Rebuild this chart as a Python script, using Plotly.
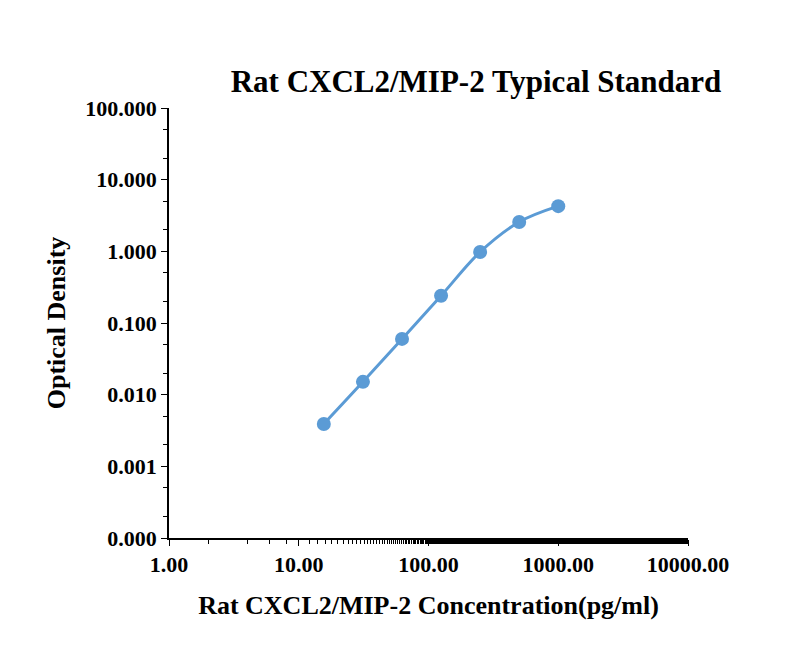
import plotly.graph_objects as go

concentration = [15.6, 31.25, 62.5, 125, 250, 500, 1000]
od = [0.0039, 0.0151, 0.060, 0.24, 0.98, 2.57, 4.27]

y_tickvals = [0.0001, 0.001, 0.01, 0.1, 1, 10, 100]
y_ticktext = ["0.000", "0.001", "0.010", "0.100", "1.000", "10.000", "100.000"]
x_tickvals = [1, 10, 100, 1000, 10000]
x_ticktext = ["1.00", "10.00", "100.00", "1000.00", "10000.00"]

font = dict(family="Liberation Serif", color="black", size=22)

fig = go.Figure()
fig.add_trace(go.Scatter(
    x=concentration, y=od, mode="lines+markers",
    line=dict(color="#5b9bd5", width=3, shape="spline"),
    marker=dict(color="#5b9bd5", size=14),
    showlegend=False,
))

fig.update_layout(
    width=800, height=653,
    paper_bgcolor="white", plot_bgcolor="white",
    margin=dict(l=161, r=120, t=100, b=123),
    font=font,
    title=dict(text="<b>Rat CXCL2/MIP-2 Typical Standard</b>", x=0.585, xanchor="center", y=0.905,
               font=dict(size=31, family="Liberation Serif")),
)
fig.update_xaxes(
    type="log", range=[0, 4], tickvals=x_tickvals, automargin=False,
    ticktext=["<b>%s</b>" % t for t in x_ticktext],
    showline=True, linecolor="black", linewidth=1.5, showgrid=False,
    ticks="outside", ticklen=6, tickcolor="black",
    minor=dict(ticks="outside", ticklen=4, tickcolor="black", showgrid=False),
    title=dict(text="<b>Rat CXCL2/MIP-2 Concentration(pg/ml)</b>", font=dict(size=26), standoff=20),
)
fig.update_yaxes(
    type="log", range=[-4, 2], tickvals=y_tickvals, automargin=False,
    ticktext=["<b>%s</b>" % t for t in y_ticktext],
    showline=True, linecolor="black", linewidth=1.5, showgrid=False,
    ticks="outside", ticklen=6, tickcolor="black",
    minor=dict(ticks="outside", ticklen=4, tickcolor="black", showgrid=False),
    title=dict(text="<b>Optical Density</b>", font=dict(size=26), standoff=12),
)

fig.write_html("out.html")
